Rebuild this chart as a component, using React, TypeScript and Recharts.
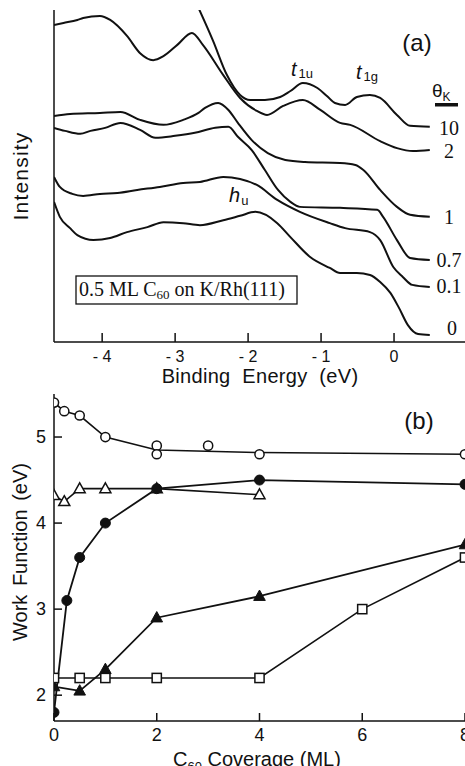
import React from 'react';
import { LineChart, ComposedChart, Line, XAxis, YAxis } from 'recharts';

const SANS = '"Liberation Sans", Arial, Helvetica, sans-serif';
const SERIF = '"Liberation Serif", "Times New Roman", serif';
const INK = '#111';

// ---- panel (a): photoemission spectra, binding energy (eV) vs intensity (arb. units)
const energyTicks = [-4, -3, -2, -1, 0];
const energyTickLabels = ['- 4', '- 3', '- 2', '- 1', '0'];

const eV_k10 = [-2.75, -2.48, -2.29, -2.11, -1.97, -1.77, -1.56, -1.42, -1.25, -1.05, -0.92, -0.81, -0.67, -0.51, -0.33, -0.19, 0.04, 0.22, 0.49];
const int_k10 = [104, 90.7, 80.4, 74.4, 72.9, 72.9, 73.8, 75.6, 78.0, 76.5, 74.1, 72.0, 71.4, 73.8, 74.4, 73.5, 68.4, 65.1, 64.8];

const eV_k2 = [-4.66, -4.53, -4.34, -4.26, -4.03, -3.89, -3.66, -3.48, -3.30, -3.16, -2.97, -2.77, -2.62, -2.34, -2.11, -1.88, -1.74, -1.52, -1.25, -1.01, -0.74, -0.60, -0.19, 0.04, 0.26, 0.49];
const int_k2 = [95.5, 96.1, 97.0, 97.6, 98.2, 97.0, 92.2, 87.0, 84.9, 86.1, 89.5, 93.1, 89.5, 80.4, 73.5, 69.6, 68.4, 71.1, 72.9, 69.9, 66.0, 65.4, 60.5, 58.4, 57.5, 57.8];

const eV_k1 = [-4.66, -4.44, -4.03, -3.75, -3.48, -3.16, -2.89, -2.68, -2.59, -2.41, -2.27, -2.14, -1.95, -1.73, -1.49, -1.22, -0.74, -0.53, -0.42, -0.19, 0.04, 0.22, 0.49];
const int_k1 = [68.1, 68.7, 69.0, 69.3, 66.9, 65.4, 66.9, 69.0, 70.5, 72.0, 69.9, 66.0, 60.8, 56.9, 54.8, 54.2, 53.9, 53.3, 51.8, 45.8, 40.7, 38.3, 37.7];

const eV_k07 = [-4.66, -4.51, -4.30, -4.16, -3.96, -3.75, -3.48, -3.27, -3.00, -2.73, -2.45, -2.27, -2.14, -1.95, -1.77, -1.59, -1.42, -1.29, -0.74, -0.23, -0.15, 0.04, 0.22, 0.49];
const int_k07 = [64.5, 63.6, 62.7, 63.6, 64.5, 66.0, 63.9, 61.5, 62.1, 63.0, 64.5, 64.8, 61.8, 57.8, 51.8, 45.8, 42.2, 40.7, 40.4, 39.8, 37.7, 30.7, 25.3, 24.7];

const eV_k01 = [-4.66, -4.58, -4.41, -4.26, -4.03, -3.79, -3.52, -3.21, -2.89, -2.66, -2.34, -2.11, -1.88, -1.60, -1.29, -0.88, -0.67, -0.33, -0.19, -0.01, 0.12, 0.25, 0.49];
const int_k01 = [49.7, 46.7, 44.6, 44.0, 44.6, 44.9, 45.8, 46.7, 47.9, 48.2, 49.7, 49.1, 47.3, 42.8, 39.2, 35.8, 34.3, 33.1, 30.7, 22.6, 19.6, 17.2, 16.6];

const eV_k0 = [-4.66, -4.58, -4.44, -4.34, -4.12, -3.89, -3.66, -3.38, -3.16, -2.89, -2.66, -2.34, -2.11, -1.90, -1.60, -1.42, -1.15, -0.88, -0.74, -0.51, -0.33, -0.19, -0.05, 0.07, 0.19, 0.33, 0.49];
const int_k0 = [42.2, 37.7, 34.3, 32.2, 30.7, 31.3, 33.1, 34.6, 36.1, 35.8, 35.2, 36.7, 38.0, 39.2, 35.8, 31.6, 25.6, 22.3, 20.8, 20.8, 20.2, 18.1, 14.8, 10.2, 5.1, 2.4, 2.1];

const thetaLabels = ['10', '2', '1', '0.7', '0.1', '0'];

// ---- panel (b): work function vs C60 coverage
const coverageTicks = [0, 2, 4, 6, 8];
const wfTicks = [2, 3, 4, 5];

const cov_openCirc = [0, 0.2, 0.5, 1, 2, 2, 3, 4, 8];
const wf_openCirc = [5.4, 5.3, 5.25, 5.0, 4.9, 4.8, 4.9, 4.8, 4.8];
const cov_openCircLine = [0, 0.2, 0.5, 1, 2, 4, 8];
const wf_openCircLine = [5.4, 5.3, 5.25, 5.0, 4.85, 4.82, 4.8];

const cov_filledCirc = [0, 0.25, 0.5, 1, 2, 4, 8];
const wf_filledCirc = [1.8, 3.1, 3.6, 4.0, 4.4, 4.5, 4.45];

const cov_openTri = [0, 0.2, 0.5, 1, 2, 4];
const wf_openTri = [4.32, 4.25, 4.4, 4.4, 4.4, 4.33];

const cov_filledTri = [0, 0.5, 1, 2, 4, 8];
const wf_filledTri = [2.1, 2.05, 2.3, 2.9, 3.15, 3.75];

const cov_openSq = [0, 0.5, 1, 2, 4, 6, 8];
const wf_openSq = [2.2, 2.2, 2.2, 2.2, 2.2, 3.0, 3.6];

const pts = (xs: number[], ys: number[]) => xs.map((x, i) => ({ x, y: ys[i] }));

const spectra = [
  pts(eV_k10, int_k10),
  pts(eV_k2, int_k2),
  pts(eV_k1, int_k1),
  pts(eV_k07, int_k07),
  pts(eV_k01, int_k01),
  pts(eV_k0, int_k0),
];

// ticks drawn inward, labels placed by hand
const EnergyTick = (props: any) => {
  const { x, y, payload } = props;
  const i = energyTicks.indexOf(payload.value);
  return (
    <g>
      <line x1={x} y1={y} x2={x} y2={y - 9} stroke={INK} strokeWidth={1.5} />
      <text x={x} y={y + 14} textAnchor="middle" dominantBaseline="central" fontSize={16} fontFamily={SANS} fill={INK}>
        {energyTickLabels[i]}
      </text>
    </g>
  );
};

const TopTick = (props: any) => {
  const { x, y } = props;
  return <line x1={x} y1={y} x2={x} y2={y + 8} stroke={INK} strokeWidth={1.5} />;
};

const CoverageTick = (props: any) => {
  const { x, y, payload } = props;
  return (
    <g>
      <line x1={x} y1={y} x2={x} y2={y - 8} stroke={INK} strokeWidth={1.5} />
      <text x={x} y={y + 14} textAnchor="middle" dominantBaseline="central" fontSize={18} fontFamily={SANS} fill={INK}>
        {payload.value}
      </text>
    </g>
  );
};

const WfTick = (props: any) => {
  const { x, y, payload } = props;
  return (
    <g>
      <line x1={x} y1={y} x2={x + 8} y2={y} stroke={INK} strokeWidth={1.5} />
      <text x={x - 8} y={y} textAnchor="end" dominantBaseline="central" fontSize={18} fontFamily={SANS} fill={INK}>
        {payload.value}
      </text>
    </g>
  );
};

// marker shapes
const openCircle = (p: any) => (
  <circle key={`oc-${p.index}`} cx={p.cx} cy={p.cy} r={4.6} fill="#fff" stroke={INK} strokeWidth={1.5} />
);
const filledCircle = (p: any) => (
  <circle key={`fc-${p.index}`} cx={p.cx} cy={p.cy} r={5} fill={INK} stroke={INK} strokeWidth={1} />
);
const triPath = (cx: number, cy: number, s: number) =>
  `M${cx},${cy - s * 0.62} L${cx + s * 0.58},${cy + s * 0.42} L${cx - s * 0.58},${cy + s * 0.42} Z`;
const openTri = (p: any) => (
  <path key={`ot-${p.index}`} d={triPath(p.cx, p.cy, 9.5)} fill="#fff" stroke={INK} strokeWidth={1.5} />
);
const filledTri = (p: any) => (
  <path key={`ft-${p.index}`} d={triPath(p.cx, p.cy, 10)} fill={INK} stroke={INK} strokeWidth={1} />
);
const openSquare = (p: any) => (
  <rect key={`os-${p.index}`} x={p.cx - 4.6} y={p.cy - 4.6} width={9.2} height={9.2} fill="#fff" stroke={INK} strokeWidth={1.5} />
);

const axisStyle = { stroke: INK, strokeWidth: 1.5 };

const App: React.FC = () => {
  return (
    <div style={{ position: 'fixed', left: 0, top: 0, width: 465, height: 766, overflow: 'hidden', background: '#fff' }}>
      {/* (a) spectra */}
      <div style={{ position: 'absolute', left: 0, top: 0 }}>
        <LineChart width={480} height={382} margin={{ top: 10, right: 13, bottom: 0, left: 0 }}>
          <XAxis
            type="number"
            dataKey="x"
            domain={[-4.66, 1.0]}
            allowDataOverflow
            ticks={energyTicks}
            height={40}
            tickSize={0}
            tickMargin={0}
            tickLine={false}
            tick={<EnergyTick />}
            axisLine={axisStyle}
          />
          <XAxis
            xAxisId="top"
            orientation="top"
            type="number"
            dataKey="x"
            domain={[-4.66, 1.0]}
            allowDataOverflow
            ticks={energyTicks}
            height={0}
            tickSize={0}
            tickMargin={0}
            tickLine={false}
            tick={<TopTick />}
            axisLine={axisStyle}
          />
          <YAxis type="number" domain={[0, 100]} allowDataOverflow width={54} tick={false} tickLine={false} axisLine={axisStyle} />
          {spectra.map((d, i) => (
            <Line
              key={thetaLabels[i]}
              data={d}
              dataKey="y"
              type="monotoneX"
              stroke={INK}
              strokeWidth={2}
              dot={false}
              isAnimationActive={false}
            />
          ))}
        </LineChart>
      </div>

      {/* (b) work function */}
      <div style={{ position: 'absolute', left: 0, top: 384 }}>
        <ComposedChart width={480} height={377} margin={{ top: 10, right: 15, bottom: 0, left: 0 }}>
          <XAxis
            type="number"
            dataKey="x"
            domain={[0, 8]}
            allowDataOverflow
            ticks={coverageTicks}
            height={40}
            tickSize={0}
            tickMargin={0}
            tickLine={false}
            tick={<CoverageTick />}
            axisLine={axisStyle}
          />
          <XAxis
            xAxisId="top"
            orientation="top"
            type="number"
            dataKey="x"
            domain={[0, 8]}
            height={0}
            tick={false}
            tickLine={false}
            axisLine={axisStyle}
          />
          <YAxis
            type="number"
            domain={[1.7, 5.5]}
            allowDataOverflow
            ticks={wfTicks}
            width={54}
            tickSize={0}
            tickMargin={0}
            tickLine={false}
            tick={<WfTick />}
            axisLine={axisStyle}
          />
          <YAxis yAxisId="right" orientation="right" type="number" domain={[1.7, 5.5]} width={0} tick={false} tickLine={false} axisLine={axisStyle} />
          <Line data={pts(cov_openCircLine, wf_openCircLine)} dataKey="y" type="linear" stroke={INK} strokeWidth={1.6} dot={false} isAnimationActive={false} />
          <Line data={pts(cov_openTri, wf_openTri)} dataKey="y" type="linear" stroke={INK} strokeWidth={1.6} dot={openTri} isAnimationActive={false} />
          <Line data={pts(cov_filledCirc, wf_filledCirc)} dataKey="y" type="linear" stroke={INK} strokeWidth={1.8} dot={filledCircle} isAnimationActive={false} />
          <Line data={pts(cov_filledTri, wf_filledTri)} dataKey="y" type="linear" stroke={INK} strokeWidth={1.8} dot={filledTri} isAnimationActive={false} />
          <Line data={pts(cov_openSq, wf_openSq)} dataKey="y" type="linear" stroke={INK} strokeWidth={1.6} dot={openSquare} isAnimationActive={false} />
          <Line data={pts(cov_openCirc, wf_openCirc)} dataKey="y" type="linear" stroke="none" dot={openCircle} isAnimationActive={false} />
        </ComposedChart>
      </div>

      {/* annotations */}
      <svg width={465} height={766} style={{ position: 'absolute', left: 0, top: 0, pointerEvents: 'none' }}>
        <g fill={INK}>
          <text x={417} y={51} fontSize={24} textAnchor="middle" fontFamily={SANS}>(a)</text>
          <text x={291} y={76} fontSize={20} fontFamily={SANS}>
            <tspan fontStyle="italic" fill={INK}>t</tspan>
            <tspan fontSize={13} dy={2} dx={2} fill={INK}>1u</tspan>
          </text>
          <text x={356} y={79} fontSize={20} fontFamily={SANS}>
            <tspan fontStyle="italic" fill={INK}>t</tspan>
            <tspan fontSize={13} dy={2} dx={2} fill={INK}>1g</tspan>
          </text>
          <text x={229} y={202} fontSize={20} fontFamily={SANS}>
            <tspan fontStyle="italic" fill={INK}>h</tspan>
            <tspan fontSize={13} dy={3} dx={1} fill={INK}>u</tspan>
          </text>
          <text x={432} y={97} fontSize={19} fontFamily={SANS}>
            θ<tspan fontSize={12} dy={4} fill={INK}>K</tspan>
          </text>
          <rect x={435} y={103} width={23} height={3.5} />
          {[128, 151, 217, 260, 286, 328].map((cy, i) => (
            <text key={thetaLabels[i]} x={i === 5 ? 452 : 449} y={cy} fontSize={20} textAnchor="middle" dominantBaseline="central" fontFamily={SERIF}>
              {thetaLabels[i]}
            </text>
          ))}
          <rect x={76} y={276} width={221} height={28} fill="#fff" stroke={INK} strokeWidth={1.3} />
          <text x={79} y={296} fontSize={20} fontFamily={SERIF} fill={INK}>
            0.5 ML C<tspan fontSize={13} dy={3} fill={INK}>60</tspan>
            <tspan dy={-3} fill={INK}> on K/Rh(111)</tspan>
          </text>
          <text x={260} y={383} fontSize={20} textAnchor="middle" fontFamily={SANS} wordSpacing={6} letterSpacing={0.3}>
            Binding Energy (eV)
          </text>
          <text transform="translate(28,176) rotate(-90)" fontSize={21} textAnchor="middle" fontFamily={SANS} letterSpacing={1.2}>
            Intensity
          </text>

          <text x={419} y={429} fontSize={24} textAnchor="middle" fontFamily={SANS}>(b)</text>
          <text transform="translate(27,552) rotate(-90)" fontSize={20} textAnchor="middle" fontFamily={SANS} wordSpacing={3}>
            Work Function (eV)
          </text>
          <text x={173} y={766} fontSize={20} fontFamily={SANS} fill={INK}>
            C<tspan fontSize={13} dy={5} fill={INK}>60</tspan>
            <tspan dy={-5} fill={INK}> Coverage (ML)</tspan>
          </text>
        </g>
      </svg>
    </div>
  );
};

export default App;
